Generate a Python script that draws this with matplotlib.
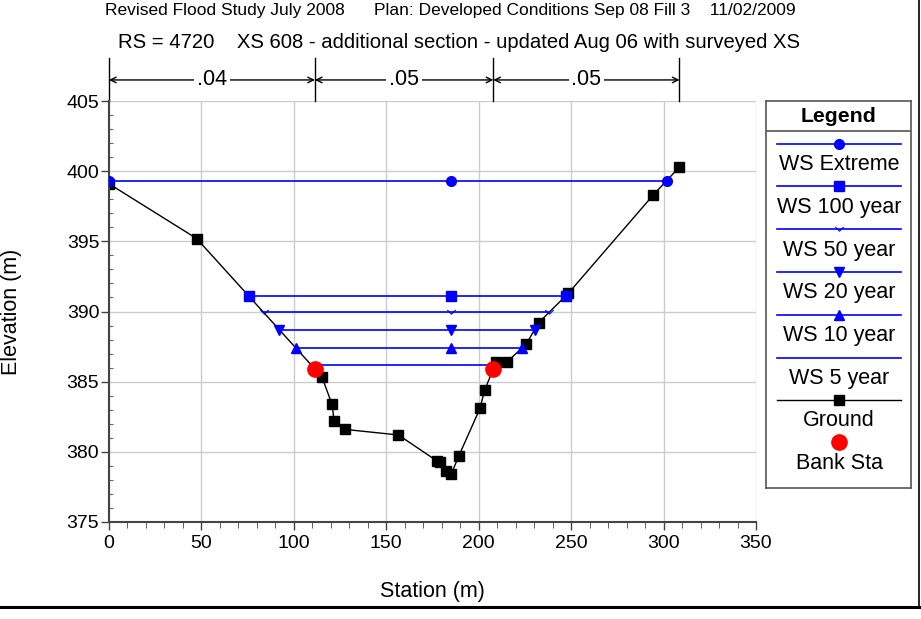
import matplotlib
matplotlib.use('Agg')
import matplotlib.pyplot as plt
from matplotlib.lines import Line2D
from matplotlib.path import Path
from matplotlib.ticker import MultipleLocator

plt.rcParams['font.family'] = ['Liberation Sans', 'DejaVu Sans']

# Ground profile
ground_sta = [0, 47.4, 111.4, 115.3, 120.6, 121.8, 127.6, 156.6, 177.4, 178.9,
              182.3, 185.1, 189.2, 200.7, 203.2, 207.9, 209.2, 215.3, 225.8,
              232.4, 248.5, 294.4, 308.6]
ground_elev = [399.1, 395.2, 385.9, 385.3, 383.4, 382.2, 381.6, 381.2, 379.35,
               379.3, 378.65, 378.4, 379.7, 383.1, 384.4, 385.9, 386.4, 386.4,
               387.7, 389.2, 391.3, 398.3, 400.3]

# Water surfaces
ws_names = ['WS Extreme', 'WS 100 year', 'WS 50 year', 'WS 20 year', 'WS 10 year', 'WS 5 year']
ws_elev = [399.3, 391.1, 390.0, 388.7, 387.4, 386.2]
ws_left = [0, 75.7, 83.8, 92.1, 100.9, 108.6]
ws_right = [302.0, 247.4, 238.0, 230.3, 223.6, 209.2]
ws_mid = 185.2

# Bank stations
bank_sta = [111.4, 207.9]
bank_elev = [385.9, 385.9]

# Manning's n
n_vals = ['.04', '.05', '.05']
n_breaks = [0, 111.4, 207.9, 308.6]

chevron = Path([(-1, 0.6), (0, -0.4), (1, 0.6)], [Path.MOVETO, Path.LINETO, Path.LINETO])
ws_styles = [
    dict(marker='o', ms=7, mfc='blue', mec='blue'),
    dict(marker='s', ms=7, mfc='blue', mec='blue'),
    dict(marker=chevron, ms=6, mfc='none', mec='blue', mew=0.8),
    dict(marker='v', ms=7, mfc='blue', mec='blue'),
    dict(marker='^', ms=7, mfc='blue', mec='blue'),
    dict(marker='None'),
]

W, H = 921, 619
fig = plt.figure(figsize=(W / 100, H / 100), dpi=100)
ax = fig.add_axes([109 / W, (H - 522) / H, (756 - 109) / W, (522 - 101) / H])

for name, e, l, r, st in zip(ws_names, ws_elev, ws_left, ws_right, ws_styles):
    ax.plot([l, ws_mid, r], [e, e, e], color='blue', lw=1.2, zorder=3, **st)

ax.plot(ground_sta, ground_elev, color='black', lw=1, marker='s', ms=6.5,
        mfc='black', mec='black', zorder=2)
ax.plot(bank_sta, bank_elev, 'o', color='red', ms=11, zorder=4)

ax.set_xlim(0, 350)
ax.set_ylim(375, 405)
ax.xaxis.set_major_locator(MultipleLocator(50))
ax.xaxis.set_minor_locator(MultipleLocator(10))
ax.yaxis.set_major_locator(MultipleLocator(5))
ax.yaxis.set_minor_locator(MultipleLocator(1))
ax.grid(True, which='major', color='#cccccc', lw=1)
ax.set_axisbelow(True)
for s in ['top', 'right']:
    ax.spines[s].set_visible(False)
for s in ['left', 'bottom']:
    ax.spines[s].set_color('#444444')
    ax.spines[s].set_linewidth(1.5)
ax.tick_params(axis='both', which='major', direction='out', length=6, width=1,
               color='#444444', labelsize=14)
ax.tick_params(axis='y', which='major', pad=1)
ax.tick_params(axis='y', which='minor', direction='in', length=3, color='#444444')
ax.tick_params(axis='x', which='minor', direction='out', length=4, color='#444444')
ax.set_xlabel('Station (m)', fontsize=15.5, va='center')
ax.set_ylabel('Elevation (m)', fontsize=15.5, va='center')
ax.xaxis.set_label_coords(0.5, (522 - 591) / 421)
ax.yaxis.set_label_coords((12 - 109) / 647, 0.5)

# Manning's n bar above axes
trans = ax.get_xaxis_transform()
for b in n_breaks:
    ax.plot([b, b], [1.0, 1.102], transform=trans, color='black', lw=1, clip_on=False)
for i, n in enumerate(n_vals):
    a, b = n_breaks[i], n_breaks[i + 1]
    ax.annotate('', xy=(a, 1.05), xytext=(b, 1.05), xycoords=trans, textcoords=trans,
                arrowprops=dict(arrowstyle='<->', color='black', lw=1,
                                shrinkA=0, shrinkB=0))
    ax.text((a + b) / 2, 1.05, n, transform=trans, ha='center', va='center', fontsize=15.5,
            bbox=dict(facecolor='white', edgecolor='none', pad=2))

fig.text(450 / W, 1 - 10 / H,
         'Revised Flood Study July 2008      Plan: Developed Conditions Sep 08 Fill 3    11/02/2009',
         ha='center', va='center', fontsize=12.5)
fig.text(459 / W, 1 - 43 / H,
         'RS = 4720    XS 608 - additional section - updated Aug 06 with surveyed XS',
         ha='center', va='center', fontsize=14.6)

# Legend box (pixel coordinates)
lax = fig.add_axes([766 / W, (H - 488) / H, (911 - 766) / W, (488 - 101) / H])
lax.set_xlim(766, 911)
lax.set_ylim(488, 101)
lax.set_xticks([])
lax.set_yticks([])
for s in lax.spines.values():
    s.set_color('#555555')
    s.set_linewidth(1.2)
lax.plot([766, 911], [131, 131], color='#555555', lw=1.2)
lax.text(838.5, 116, 'Legend', ha='center', va='center', fontsize=15.3, fontweight='bold')
y0 = 143.5
step = 42.8
for i, (name, st) in enumerate(zip(ws_names, ws_styles)):
    yl = y0 + i * step
    lax.plot([777, 901], [yl, yl], color='blue', lw=1.2)
    lax.plot([839], [yl], color='blue', **st)
    lax.text(839, yl + 21, name, ha='center', va='center', fontsize=15.5)
yl = y0 + 6 * step
lax.plot([777, 901], [yl, yl], color='black', lw=1)
lax.plot([839], [yl], 's', color='black', ms=6.5)
lax.text(839, yl + 20, 'Ground', ha='center', va='center', fontsize=15.5)
yl = y0 + 7 * step
lax.plot([839], [yl - 1], 'o', color='red', ms=11)
lax.text(839, yl + 20, 'Bank Sta', ha='center', va='center', fontsize=15.5)

# window frame edges
fig.add_artist(Line2D([0, 919 / W], [1 - 607 / H, 1 - 607 / H], color='black', lw=2.2))
fig.add_artist(Line2D([919 / W, 919 / W], [1 - 607 / H, 1], color='black', lw=1.2))

fig.savefig('out.png', dpi=100)
